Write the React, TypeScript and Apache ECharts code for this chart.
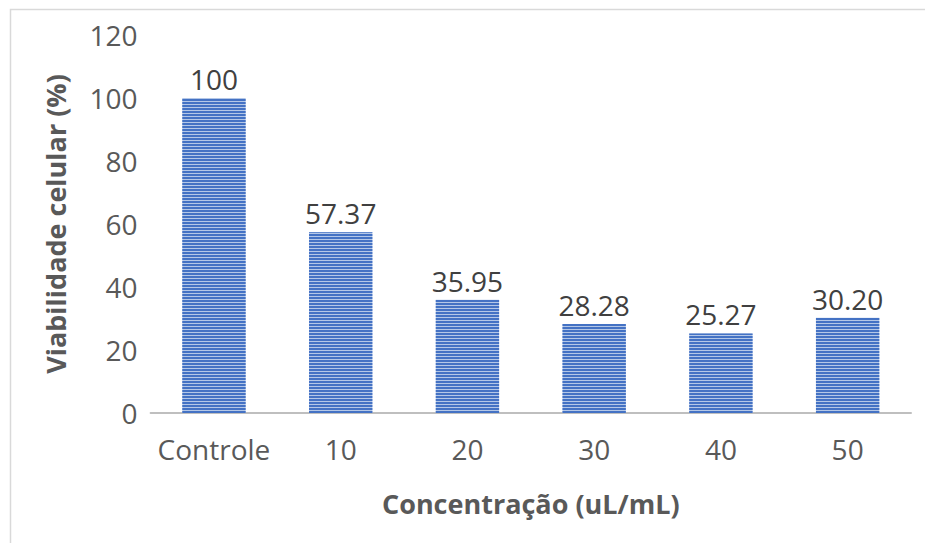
import React, { useEffect, useRef } from "react";
import * as echarts from "echarts";

const categories = ["Controle", "10", "20", "30", "40", "50"];
const values = [100, 57.37, 35.95, 28.28, 25.27, 30.2];
const valueLabels = ["100", "57.37", "35.95", "28.28", "25.27", "30.20"];
const yTicks = { min: 0, max: 120, interval: 20 };
const xTitle = "Concentração (uL/mL)";
const yTitle = "Viabilidade celular (%)";

export default function App() {
  const ref = useRef<HTMLDivElement>(null);
  useEffect(() => {
    if (!ref.current) return;
    const chart = echarts.init(ref.current, undefined, { renderer: "svg" });
    const font = "'Open Sans', 'Noto Sans', sans-serif";
    chart.setOption({
      animation: false,
      backgroundColor: "#ffffff",
      textStyle: { fontFamily: font },
      graphic: [
        {
          type: "rect",
          shape: { x: 10.5, y: 9.5, width: 1000, height: 1000 },
          style: { fill: "none", stroke: "#d9d9d9", lineWidth: 1.5 },
          silent: true,
          z: -1,
        },
      ],
      grid: { left: 150.6, right: 14, top: 35, bottom: 130, containLabel: false },
      xAxis: {
        type: "category",
        data: categories,
        name: xTitle,
        nameLocation: "middle",
        nameGap: 77,
        nameTextStyle: { fontSize: 27, fontWeight: "bold", color: "#595959", fontFamily: font },
        axisLine: { lineStyle: { color: "#bfbfbf", width: 2 } },
        axisTick: { show: false },
        axisLabel: { fontSize: 28, color: "#595959", margin: 22, interval: 0, fontFamily: font },
      },
      yAxis: {
        type: "value",
        min: yTicks.min,
        max: yTicks.max,
        interval: yTicks.interval,
        name: yTitle,
        nameLocation: "middle",
        nameGap: 82,
        nameTextStyle: { fontSize: 27, fontWeight: "bold", color: "#595959", fontFamily: font },
        axisLine: { show: false },
        axisTick: { show: false },
        splitLine: { show: false },
        axisLabel: { fontSize: 28, color: "#595959", margin: 13, padding: [9, 0, 0, 0], fontFamily: font },
      },
      series: [
        {
          type: "bar",
          data: values,
          barWidth: "50%",
          itemStyle: {
            color: "#b4c7e7",
            decal: {
              symbol: "rect",
              symbolSize: 1,
              color: "#4472c4",
              dashArrayX: [1, 0],
              dashArrayY: [2, 1],
              rotation: 0,
            },
          },
          label: {
            show: true,
            position: "top",
            distance: 5,
            fontSize: 28,
            color: "#404040",
            fontFamily: font,
            formatter: (p: any) => valueLabels[p.dataIndex],
          },
        },
      ],
    });
    return () => chart.dispose();
  }, []);
  return (
    <div
      ref={ref}
      style={{ position: "absolute", left: 0, top: 0, width: 925, height: 543 }}
    />
  );
}
